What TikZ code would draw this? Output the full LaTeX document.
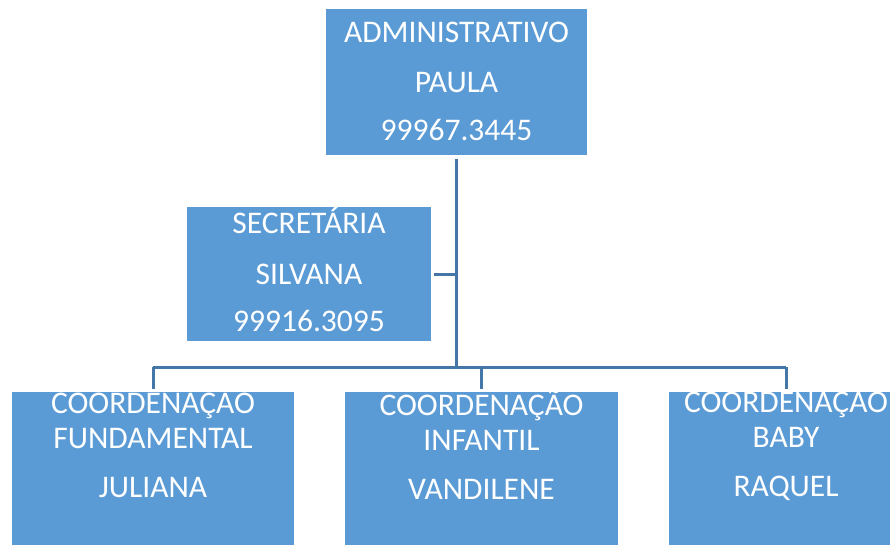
\documentclass[tikz,border=0pt]{standalone}
\usepackage{fontspec}
\setmainfont{Carlito}
\definecolor{boxblue}{HTML}{5B9BD5}
\definecolor{linkblue}{HTML}{4476A8}
\begin{document}
\begin{tikzpicture}[x=1pt,y=1pt,
  orgbox/.style={fill=boxblue,draw=none,inner sep=0pt,minimum width=#1},
  txt/.style={text=white,font=\fontsize{31.5}{31.5}\selectfont,anchor=base,inner sep=0pt},
  link/.style={draw=linkblue,line width=3pt}]
\useasboundingbox (0,0) rectangle (890,544);
% boxes
\node[orgbox=261pt,minimum height=145.5pt] (top) at (456.5,461.75) {};
\node[orgbox=244pt,minimum height=134pt] (sec) at (309,270) {};
\node[orgbox=282pt,minimum height=160pt] (b1) at (153,72) {};
\node[orgbox=273pt,minimum height=160pt] (b2) at (481.5,72) {};
\node[orgbox=234pt,minimum height=160pt] (b3) at (786,72) {};
% texts
\node[txt] (t1) at (456.5,501) {ADMINISTRATIVO};
\node[txt] (t2) at (456.5,451) {PAULA};
\node[txt] (t3) at (456.5,403) {99967.3445};
\node[txt] (s1) at (309,310) {SECRETÁRIA};
\node[txt] (s2) at (309,260) {SILVANA};
\node[txt] (s3) at (309,213) {99916.3095};
\node[txt] (c1a) at (153,131) {COORDENAÇÃO};
\node[txt] (c1b) at (153,96) {FUNDAMENTAL};
\node[txt] (c1c) at (153,47) {JULIANA};
\node[txt] (c2a) at (481.5,129) {COORDENAÇÃO};
\node[txt] (c2b) at (481.5,94) {INFANTIL};
\node[txt] (c2c) at (481.5,45) {VANDILENE};
\node[txt] (c3a) at (786,132) {COORDENAÇÃO};
\node[txt] (c3b) at (786,97) {BABY};
\node[txt] (c3c) at (786,48) {RAQUEL};
% connectors
\coordinate (hub) at (456,177);
\draw[link,shorten <=4pt] (top.south -| hub) -- (hub);
\draw[link,shorten <=3pt] (sec.east) -- (sec.east -| hub);
\draw[link] (b1.north |- hub) -- (b3.north |- hub);
\draw[link,shorten <=3pt] (b1.north) -- (b1.north |- hub);
\draw[link,shorten <=3pt] (b2.north) -- (b2.north |- hub);
\draw[link,shorten <=3pt] (b3.north) -- (b3.north |- hub);
\end{tikzpicture}
\end{document}
